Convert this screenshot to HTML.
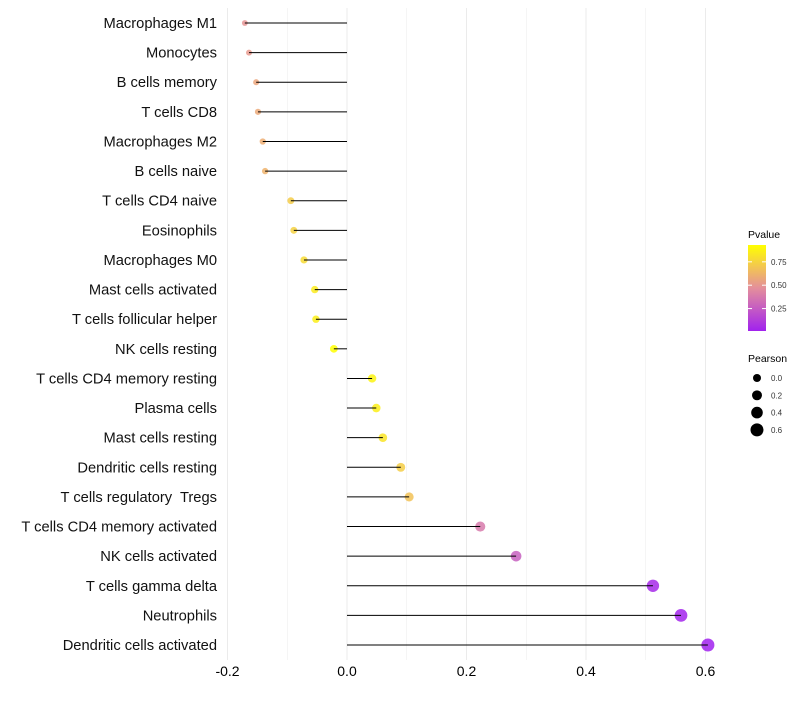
<!DOCTYPE html>
<html><head><meta charset="utf-8"><style>
body{margin:0;background:#fff;font-family:"Liberation Sans",sans-serif}
text{white-space:pre}
</style></head><body>
<svg id="c" width="800" height="700" xmlns="http://www.w3.org/2000/svg"></svg>
<script>
const categories=["Macrophages M1","Monocytes","B cells memory","T cells CD8","Macrophages M2","B cells naive","T cells CD4 naive","Eosinophils","Macrophages M0","Mast cells activated","T cells follicular helper","NK cells resting","T cells CD4 memory resting","Plasma cells","Mast cells resting","Dendritic cells resting","T cells regulatory  Tregs","T cells CD4 memory activated","NK cells activated","T cells gamma delta","Neutrophils","Dendritic cells activated"];
const pearson=[-0.171,-0.164,-0.152,-0.149,-0.141,-0.137,-0.094,-0.089,-0.072,-0.054,-0.052,-0.022,0.042,0.049,0.060,0.090,0.104,0.223,0.283,0.512,0.559,0.604];
const pvalues=[0.50,0.52,0.57,0.58,0.60,0.62,0.72,0.74,0.78,0.85,0.86,0.93,0.88,0.86,0.82,0.73,0.68,0.38,0.27,0.04,0.02,0.01];
const xTicks=[-0.2,0,0.2,0.4,0.6];
const xTickLabels=["-0.2","0.0","0.2","0.4","0.6"];
const pTicks=[0.25,0.5,0.75];
const sizeTicks=[0,0.2,0.4,0.6];

const NS="http://www.w3.org/2000/svg";
const svg=document.getElementById('c');
const x=v=>347+v*597.5;
const y=i=>23+i*29.62;
const r=v=>Math.sqrt(Math.max(16+43.75*v,2));
function col(p){
  const stops=[[0,[160,32,240]],[0.5,[232,150,150]],[0.93,[255,255,0]]];
  if(p>=0.93)return 'rgb(255,255,0)';
  for(let k=0;k<stops.length-1;k++){const[a,ca]=stops[k],[b,cb]=stops[k+1];
    if(p<=b){const t=(p-a)/(b-a);return 'rgb('+ca.map((c,j)=>Math.round(c+(cb[j]-c)*t)).join(',')+')';}}
}
function el(t,a,parent){const e=document.createElementNS(NS,t);for(const k in a)e.setAttribute(k,a[k]);(parent||svg).appendChild(e);return e;}

for(let v=-0.2;v<=0.65;v+=0.1){
  const g=el('line',{x1:x(v),x2:x(v),y1:8,y2:660,stroke:'#ebebeb','stroke-width':Math.abs(Math.round(v*10))%2===0?1:0.5});
  
  
}
xTicks.forEach((v,i)=>{
  const t=el('text',{x:x(v),y:676,'text-anchor':'middle','font-size':14,fill:'#000'});
  t.textContent=xTickLabels[i];
  
  
});
categories.forEach((c,i)=>{
  const t=el('text',{x:217,y:y(i)+5,'text-anchor':'end','font-size':14.7,fill:'#111'});
  t.textContent=c;
  
  
  const ci=el('circle',{cx:x(pearson[i]),cy:y(i),r:r(pearson[i]),fill:col(pvalues[i]),opacity:0.85});
  
  
  const l=el('line',{x1:x(0),x2:x(pearson[i]),y1:y(i),y2:y(i),stroke:'#000','stroke-width':1});
  
  
});
const defs=el('defs',{});
const lg=el('linearGradient',{id:'g',x1:0,y1:1,x2:0,y2:0},defs);
[0,0.25,0.5,0.75,1].forEach(s=>el('stop',{offset:s,'stop-color':col(0.01+s*0.92)},lg));
const lt=el('text',{x:748,y:238,'font-size':10.5,fill:'#000'});lt.textContent='Pvalue';


const bar=el('rect',{x:748,y:245,width:18,height:86,fill:'url(#g)'});


pTicks.forEach(p=>{
  const yy=331-(p-0.01)/0.92*86;
  el('line',{x1:748,x2:752,y1:yy,y2:yy,stroke:'#fff'});el('line',{x1:762,x2:766,y1:yy,y2:yy,stroke:'#fff'});
  const t=el('text',{x:771,y:yy+3,'font-size':8,fill:'#333'});t.textContent=p.toFixed(2);
  
  
});
const st=el('text',{x:748,y:362,'font-size':10.5,fill:'#000'});st.textContent='Pearson';


sizeTicks.forEach((s,i)=>{
  const yy=378+i*17.3;
  const c=el('circle',{cx:757,cy:yy,r:r(s),fill:'#000'});
  
  
  const t=el('text',{x:771,y:yy+3,'font-size':8,fill:'#333'});t.textContent=s.toFixed(1);
  
  
});
</script>
</body></html>
